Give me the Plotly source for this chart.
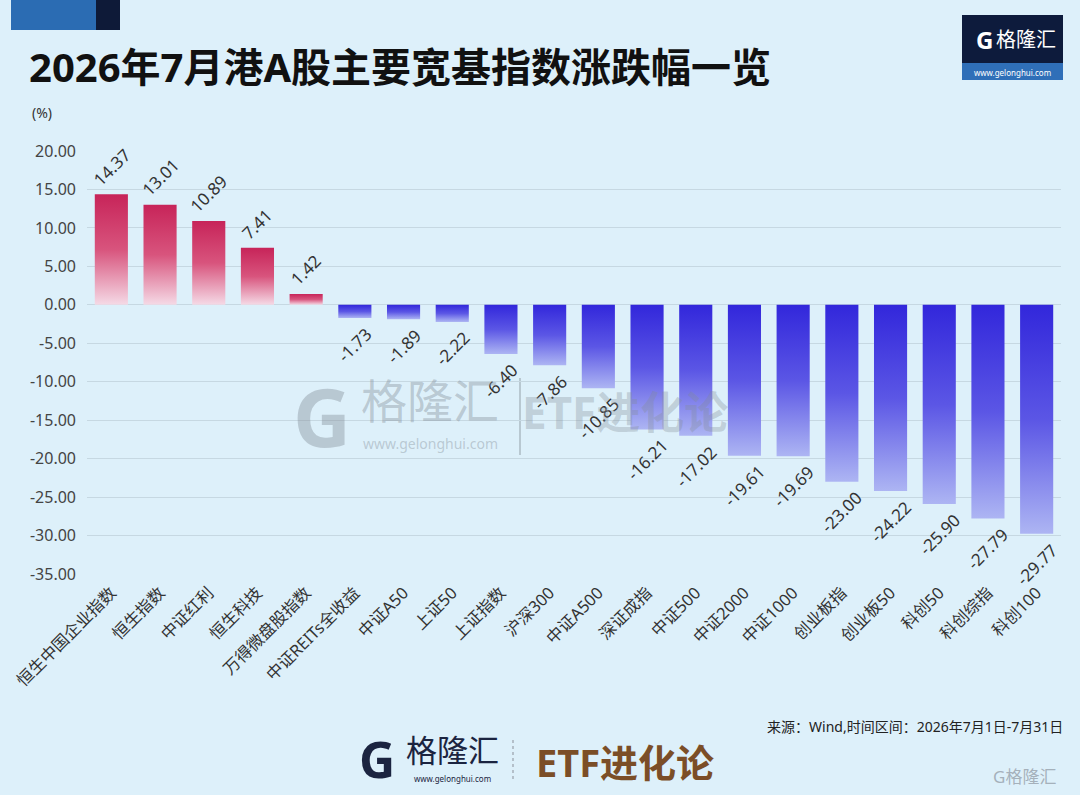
import plotly.graph_objects as go

names = ['恒生中国企业指数', '恒生指数', '中证红利', '恒生科技', '万得微盘股指数',
         '中证REITs全收益', '中证A50', '上证50', '上证指数', '沪深300',
         '中证A500', '深证成指', '中证500', '中证2000', '中证1000',
         '创业板指', '创业板50', '科创50', '科创综指', '科创100']
changes = [14.37, 13.01, 10.89, 7.41, 1.42,
           -1.73, -1.89, -2.22, -6.40, -7.86,
           -10.85, -16.21, -17.02, -19.61, -19.69,
           -23.00, -24.22, -25.90, -27.79, -29.77]
y_ticks = [20, 15, 10, 5, 0, -5, -10, -15, -20, -25, -30, -35]

W, H = 1080, 795
L, R, T, B = 87, 19, 151, 221
pw, ph = W - L - R, H - T - B
FONT = 'Noto Sans, Noto Sans CJK SC'
BG = '#ddf0fa'


def px(x):
    return (x - L) / pw


def py(y):
    return (H - B - y) / ph


pink = [[0, '#f5dae6'], [0.5, '#d8547d'], [1, '#c72459']]
blue = [[0, '#adb5f3'], [0.5, '#5b56e5'], [1, '#3227db']]
half = 0.34

fig = go.Figure()
for i, v in enumerate(changes):
    fig.add_trace(go.Scatter(
        x=[i - half, i + half, i + half, i - half, i - half],
        y=[0, 0, v, v, 0],
        mode='lines', fill='toself',
        line=dict(width=0, color='rgba(0,0,0,0)'),
        fillgradient=dict(type='vertical', colorscale=pink if v > 0 else blue),
        name=names[i], hoverinfo='skip', showlegend=False))
    fig.add_annotation(
        x=i, y=v, xref='x', yref='y', text=f'{v:.2f}', showarrow=False,
        textangle=-45, xanchor='center',
        yanchor='bottom' if v > 0 else 'top', yshift=1 if v > 0 else -2,
        font=dict(family=FONT, size=17, color='#333'))

fig.update_xaxes(range=[-0.5, len(names) - 0.5], tickvals=list(range(len(names))),
                 ticktext=names, tickangle=-45, showgrid=False, zeroline=False,
                 ticklabelstandoff=5,
                 tickfont=dict(family=FONT, size=16.5, color='#333'))
fig.update_yaxes(range=[-35, 20], tickvals=y_ticks,
                 ticktext=[f'{t:.2f}' for t in y_ticks], showgrid=True,
                 gridcolor='#c6d8e2', gridwidth=1, zeroline=False,
                 ticklabelstandoff=10,
                 tickfont=dict(family=FONT, size=16, color='#444'))

shapes = [
    dict(type='rect', x0=px(11), x1=px(96), y0=py(0), y1=py(30), fillcolor='#2b6cb3', line_width=0),
    dict(type='rect', x0=px(96), x1=px(120), y0=py(0), y1=py(30), fillcolor='#0e1a38', line_width=0),
    dict(type='rect', x0=px(962), x1=px(1063), y0=py(15), y1=py(63), fillcolor='#0d1b3c', line_width=0),
    dict(type='rect', x0=px(962), x1=px(1063), y0=py(63), y1=py(80), fillcolor='#2f6fb8', line_width=0),
    dict(type='line', x0=px(520), x1=px(520), y0=py(378), y1=py(455),
         line=dict(color='rgba(140,150,160,0.45)', width=2)),
    dict(type='line', x0=px(513), x1=px(513), y0=py(740), y1=py(782),
         line=dict(color='#8a8f99', width=1, dash='dot')),
]
for s in shapes:
    s.update(xref='paper', yref='paper', layer='below')
fig.update_layout(shapes=shapes)


def note(x, y, text, size, color, xanchor='center', bold=False):
    fig.add_annotation(x=px(x), y=py(y), xref='paper', yref='paper', text=text,
                       showarrow=False, xanchor=xanchor, yanchor='middle',
                       font=dict(family=FONT, size=size, color=color,
                                 weight='bold' if bold else 'normal'))


# title and unit
note(27, 67, '2026年7月港A股主要宽基指数涨跌幅一览', 40, '#111', 'left', True)
note(30, 112, '(%)', 14, '#333', 'left')

# top-right logo
note(984, 40, 'G', 24, 'white', bold=True)
note(1026, 40, '格隆汇', 20, 'white')
note(1012, 72, 'www.gelonghui.com', 8, 'white')

# watermark in the middle
wm = 'rgba(130,140,150,0.4)'
note(322, 415, 'G', 80, wm, bold=True)
note(430, 400, '格隆汇', 46, wm)
note(430, 443, 'www.gelonghui.com', 14, wm)
note(625, 412, 'ETF进化论', 44, 'rgba(130,140,150,0.32)', bold=True)

# footer
note(1065, 726, '来源：Wind,时间区间：2026年7月1日-7月31日', 14, '#222', 'right')
note(377, 759, 'G', 50, '#1b2440', bold=True)
note(452, 750, '格隆汇', 31, '#1b2440')
note(452, 778, 'www.gelonghui.com', 8, '#1b2440')
note(625, 762, 'ETF进化论', 38, '#7b4e27', bold=True)
note(1058, 776, 'G格隆汇', 17, 'rgba(150,160,170,0.8)', 'right')

fig.update_layout(width=W, height=H, margin=dict(l=L, r=R, t=T, b=B),
                  paper_bgcolor=BG, plot_bgcolor=BG, showlegend=False)

fig.write_html('out.html', config={'displayModeBar': False},
               post_script="document.body.style.margin='0';")
